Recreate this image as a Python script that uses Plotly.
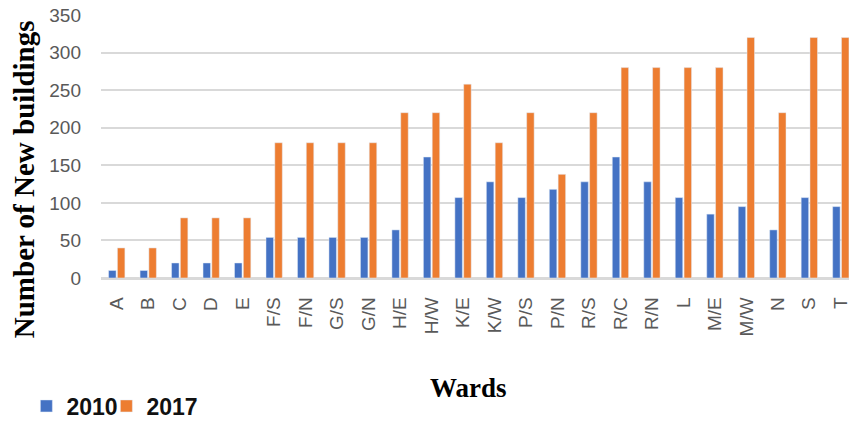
import plotly.graph_objects as go

wards = ["A", "B", "C", "D", "E", "F/S", "F/N", "G/S", "G/N", "H/E", "H/W", "K/E",
         "K/W", "P/S", "P/N", "R/S", "R/C", "R/N", "L", "M/E", "M/W", "N", "S", "T"]
y2010 = [10, 10, 20, 20, 20, 54, 54, 54, 54, 64, 161, 107,
         128, 107, 118, 128, 161, 128, 107, 85, 95, 64, 107, 95]
y2017 = [40, 40, 80, 80, 80, 180, 180, 180, 180, 220, 220, 258,
         180, 220, 138, 220, 280, 280, 280, 280, 320, 220, 320, 320]
y_ticks = [0, 50, 100, 150, 200, 250, 300, 350]

BLUE = "#4472C4"
ORANGE = "#ED7D31"
GRAY = "#595959"

fig = go.Figure()
fig.add_trace(go.Bar(x=wards, y=y2010, name="2010", marker_color=BLUE, legend="legend"))
fig.add_trace(go.Bar(x=wards, y=y2017, name="2017", marker_color=ORANGE, legend="legend2"))

legend_common = dict(
    orientation="h", xref="container", yref="container",
    xanchor="left", yanchor="middle",
    font=dict(family="Liberation Sans", size=23, color="#111111", weight="bold"),
    bgcolor="rgba(0,0,0,0)", borderwidth=0, tracegroupgap=0,
    itemwidth=30,
)

fig.update_layout(
    width=851, height=421,
    margin=dict(l=101, r=0, t=15, b=143),
    paper_bgcolor="white", plot_bgcolor="white",
    barmode="group", bargap=0.44, bargroupgap=0.15,
    showlegend=True,
    legend=dict(x=0.031, y=1 - 406 / 421, **legend_common),
    legend2=dict(x=0.125, y=1 - 406 / 421, **legend_common),
    xaxis=dict(
        type="category", range=[-0.5, 23.26], tickangle=-90,
        tickfont=dict(family="Liberation Sans", size=19, color=GRAY),
        showgrid=False, showline=True, linecolor="#d9d9d9", linewidth=1.5,
        ticks="", ticklabelstandoff=10, fixedrange=True,
    ),
    yaxis=dict(
        range=[0, 350], tickvals=y_ticks,
        tickfont=dict(family="Liberation Sans", size=19, color=GRAY),
        showgrid=True, gridcolor="#d9d9d9", gridwidth=1.5,
        zeroline=True, zerolinecolor="#d9d9d9", zerolinewidth=1.5,
        showline=False, ticks="", ticklabelstandoff=19,
    ),
    annotations=[
        dict(text="<b>Number of New buildings</b>", textangle=-90,
             xref="paper", yref="paper",
             x=(24 - 101) / 750, y=(278 - 179) / 263,
             xanchor="center", yanchor="middle", showarrow=False,
             font=dict(family="Liberation Serif", size=29, color="black")),
        dict(text="<b>Wards</b>",
             xref="paper", yref="paper",
             x=(469 - 101) / 750, y=(278 - 388) / 263,
             xanchor="center", yanchor="middle", showarrow=False,
             font=dict(family="Liberation Serif", size=27, color="black")),
    ],
)

fig.write_html("out.html")
